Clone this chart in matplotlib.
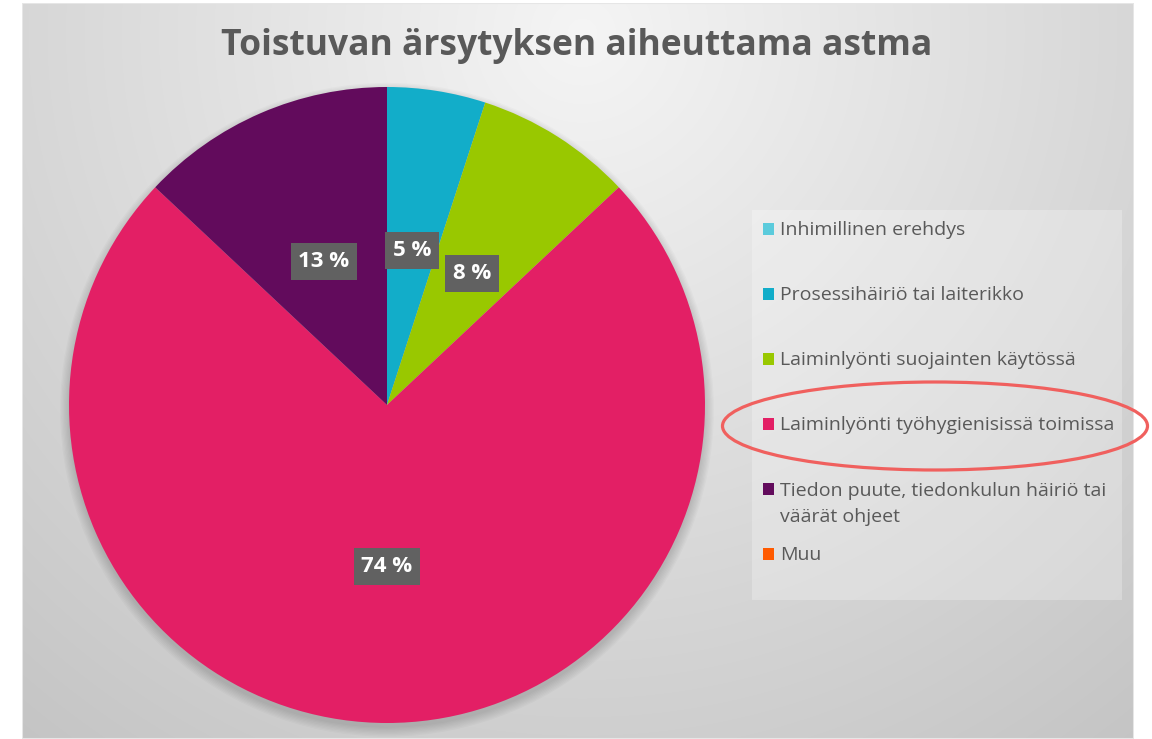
import matplotlib.pyplot as plt
import numpy as np
from matplotlib.patches import Rectangle, Ellipse, Circle

plt.rcParams['font.family'] = ['Open Sans', 'DejaVu Sans']

title = "Toistuvan ärsytyksen aiheuttama astma"
categories = [
    "Inhimillinen erehdys",
    "Prosessihäiriö tai laiterikko",
    "Laiminlyönti suojainten käytössä",
    "Laiminlyönti työhygienisissä toimissa",
    "Tiedon puute, tiedonkulun häiriö tai\nväärät ohjeet",
    "Muu",
]
shares = [0, 5, 8, 74, 13, 0]
colors = ["#5bcbdc", "#12adc9", "#99c800", "#e31f65", "#620b5c", "#ff5a00"]

W, H = 1152, 739
fig = plt.figure(figsize=(W / 100, H / 100), dpi=100)
fig.patch.set_facecolor("white")

# gradient background of the chart area
x0, x1, ytop = 22, 1134, 3
bg = fig.add_axes([x0 / W, 0, (x1 - x0) / W, 1 - ytop / H])
bg.set_axis_off()
yy, xx = np.mgrid[0:H - ytop, 0:x1 - x0]
d = np.hypot(xx - 560, yy - 30) / 900
shade = np.clip(0.96 - 0.19 * d, 0, 1)
bg.imshow(np.dstack([shade] * 3), aspect="auto", extent=[0, 1, 0, 1])
bg.set_xlim(0, 1)
bg.set_ylim(0, 1)
bg.add_patch(Rectangle((0, 0), 1, 1, fill=False, ec="#e6e6e6", lw=1.5))

fig.text(577 / W, 1 - 55 / H, title, ha="center", va="baseline",
         fontsize=25.5, fontweight="bold", color="#595959")

# pie
cx, cy, r = 387, 405, 318
ax = fig.add_axes([(cx - r) / W, 1 - (cy + r) / H, 2 * r / W, 2 * r / H])
for i in range(8):
    ax.add_patch(Circle((0, -0.015), 1 + 0.004 * i, color="black",
                        alpha=0.018, lw=0, zorder=0, clip_on=False))
wedges, _, pcts = ax.pie(
    shares, colors=colors, startangle=90, counterclock=False,
    autopct=lambda p: f"{p:.0f} %" if p > 0 else "",
    pctdistance=0.5, wedgeprops=dict(linewidth=0),
    textprops=dict(color="white", fontsize=16, fontweight="bold"),
)
for t in pcts:
    if t.get_text():
        t.set_va("center_baseline")
        t.set_bbox(dict(boxstyle="square,pad=0.35", fc="#616161", ec="none"))
ax.set_xlim(-1, 1)
ax.set_ylim(-1, 1)

# legend
fig.patches.append(Rectangle((752 / W, 1 - 600 / H), 370 / W, 390 / H,
                             transform=fig.transFigure, fc="white", alpha=0.25,
                             ec="none"))
y_first, step = 229, 65
for i, (lab, col) in enumerate(zip(categories, colors)):
    y = y_first + i * step
    fig.patches.append(Rectangle((763 / W, 1 - (y + 6) / H), 11 / W, 12 / H,
                                 transform=fig.transFigure, fc=col, ec="none"))
    ty = y + 14 if "\n" in lab else y
    fig.text(780 / W, 1 - (ty + 1) / H, lab, ha="left", va="center",
             fontsize=14, color="#595959", linespacing=1.6)

# highlight ellipse
fig.patches.append(Ellipse((935 / W, 1 - 426 / H), 425 / W, 88 / H,
                           transform=fig.transFigure, fill=False,
                           ec="#f0605e", lw=2.3))

fig.savefig("out.png", dpi=100)
